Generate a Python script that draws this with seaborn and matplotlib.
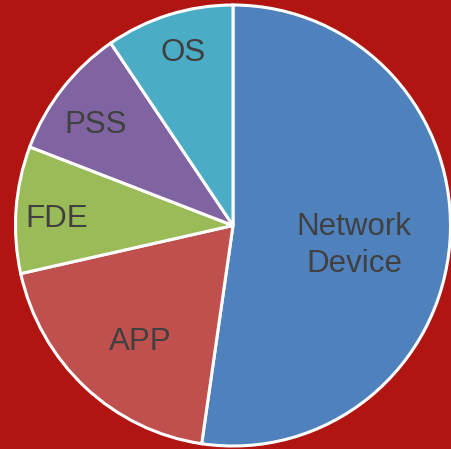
import numpy as np
import seaborn as sns
import matplotlib.pyplot as plt

sns.set_theme(style="white")
plt.rcParams['font.family'] = ['Liberation Sans', 'DejaVu Sans']

labels = ["Network\nDevice", "APP", "FDE", "PSS", "OS"]
shares = [52.3, 19.2, 9.3, 9.7, 9.5]
colors = ["#4F81BD", "#C0504D", "#9BBB59", "#8064A2", "#4BACC6"]

# label placement: radius fraction and small angle nudge from wedge middle
label_r = [0.561, 0.671, 0.81, 0.787, 0.828]
label_nudge = [-3.6, 3.2, 1.2, 1.7, -1.0]

bg = "#B01512"
fig = plt.figure(figsize=(4.51, 4.49), dpi=100, facecolor=bg)
# pie is drawn slightly taller than wide, as in the original
ax = fig.add_axes([15.5 / 451, 3 / 449, 435 / 451, 441 / 449])
ax.set_facecolor(bg)

wedges, _ = ax.pie(
    shares,
    colors=colors,
    startangle=90,
    counterclock=False,
    radius=1,
    wedgeprops=dict(edgecolor="white", linewidth=2.2),
)

for w, lab, r, nd in zip(wedges, labels, label_r, label_nudge):
    mid = np.deg2rad((w.theta1 + w.theta2) / 2 + nd)
    ax.annotate(lab, xy=(r * np.cos(mid), r * np.sin(mid)),
                xytext=(0, -2.2), textcoords="offset points",
                ha="center", va="center", fontsize=22.5,
                color="#404040", linespacing=1.3)

ax.set_xlim(-1, 1)
ax.set_ylim(-1, 1)
ax.set_aspect("auto")
ax.axis("off")

fig.savefig("out.png", dpi=100, facecolor=bg)
